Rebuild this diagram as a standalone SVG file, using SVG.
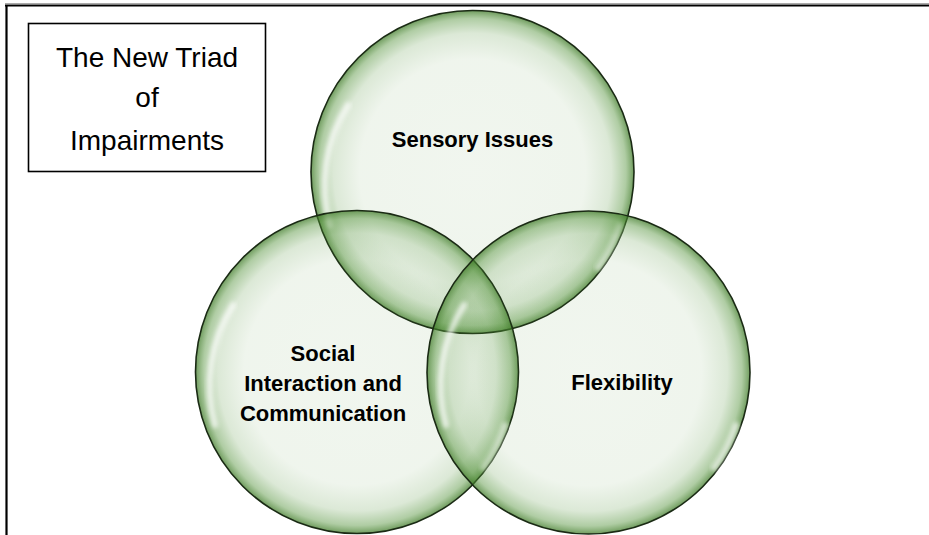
<svg xmlns="http://www.w3.org/2000/svg" width="929" height="535" viewBox="0 0 929 535">
  <style>
    .frame { stroke: #000; stroke-width: 2.2; fill: none; }
    .title { font-family: "Liberation Sans", Arial, sans-serif; font-size: 28px; fill: #000; text-anchor: middle; }
    .lbl { font-family: "Liberation Sans", Arial, sans-serif; font-size: 22px; font-weight: bold; fill: #000; text-anchor: middle; }
    .bubble { fill: url(#g); stroke: #1a2a14; stroke-width: 1.6; }
    .hl { fill: none; stroke: #ffffff; stroke-width: 6; stroke-linecap: round; opacity: 0.7; filter: url(#blur); }
  </style>
  <defs>
    <radialGradient id="g" cx="0.5" cy="0.5" r="0.5">
      <stop offset="0" stop-color="#4e8f34" stop-opacity="0.08"/>
      <stop offset="0.7" stop-color="#4e8f34" stop-opacity="0.09"/>
      <stop offset="0.86" stop-color="#4e8f34" stop-opacity="0.2"/>
      <stop offset="0.95" stop-color="#4e8f34" stop-opacity="0.45"/>
      <stop offset="1" stop-color="#3f7a28" stop-opacity="0.75"/>
    </radialGradient>
    <filter id="blur" x="-20%" y="-20%" width="140%" height="140%">
      <feGaussianBlur stdDeviation="2"/>
    </filter>
  </defs>
  <rect width="929" height="535" fill="#ffffff"/>
  <g id="frame">
    <line x1="5" y1="3.5" x2="929" y2="3.5" stroke="#aaaaaa" stroke-width="1"/>
    <line class="frame" x1="5" y1="5.5" x2="929" y2="5.5"/>
    <line class="frame" x1="6.5" y1="5" x2="6.5" y2="535"/>
  </g>
  <g id="title">
    <rect x="28.5" y="23.5" width="237" height="148" fill="#fff" stroke="#000" stroke-width="1.6"/>
    <text class="title" x="147" y="67">The New Triad</text>
    <text class="title" x="147" y="107">of</text>
    <text class="title" x="147" y="150">Impairments</text>
  </g>
  <g id="sensory">
    <circle class="bubble" cx="472.5" cy="172" r="161.5"/>
    <path class="hl" d="M 330 225 A 150 150 0 0 1 348 105"/>
    <path class="hl" d="M 620 225 A 150 150 0 0 1 598 268"/>
    <text class="lbl" x="472.5" y="147">Sensory Issues</text>
  </g>
  <g id="social">
    <circle class="bubble" cx="357" cy="372" r="161.5"/>
    <path class="hl" d="M 215 425 A 150 150 0 0 1 233 305"/>
    <path class="hl" d="M 505 425 A 150 150 0 0 1 483 468"/>
    <text class="lbl" x="323" y="361">Social</text>
    <text class="lbl" x="323" y="391">Interaction and</text>
    <text class="lbl" x="323" y="421">Communication</text>
  </g>
  <g id="flexibility">
    <circle class="bubble" cx="588.5" cy="372.5" r="161.5"/>
    <path class="hl" d="M 446 425 A 150 150 0 0 1 464 305"/>
    <path class="hl" d="M 736 425 A 150 150 0 0 1 714 468"/>
    <text class="lbl" x="622" y="390">Flexibility</text>
  </g>
  <g id="connectors"></g>
</svg>
